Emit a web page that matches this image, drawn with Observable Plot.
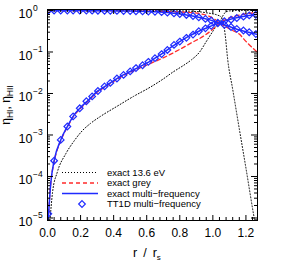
<!DOCTYPE html>
<html><head><meta charset="utf-8">
<script src="https://cdn.jsdelivr.net/npm/d3@7"></script>
<script src="https://cdn.jsdelivr.net/npm/@observablehq/plot@0.6"></script>
<style>html,body{margin:0;padding:0;background:#fff;}#chart{width:293px;height:267px;overflow:hidden;}</style>
</head><body><div id="chart"></div>
<script>
// ---- Data ----
// exact 13.6 eV (black dotted)
const e136R_HI  = [0.015,0.03,0.06,0.11,0.16,0.21,0.26,0.32,0.42,0.52,0.62,0.70,0.76,0.82,0.87,0.92,0.96,1.0,1.03,1.05,1.065,1.08,1.10,1.15,1.2,1.28];
const e136_HI   = [8.7e-6,4e-5,1.3e-4,3.5e-4,7.1e-4,1.26e-3,1.9e-3,2.8e-3,4.9e-3,8.5e-3,0.0141,0.0224,0.0331,0.0468,0.0646,0.100,0.178,0.316,0.479,0.62,0.80,0.93,0.977,1.0,1.0,1.0];
const e136R_HII = [0.0,0.5,0.8,0.87,0.93,0.97,1.0,1.03,1.05,1.06,1.075,1.09,1.12,1.16,1.2,1.25,1.26];
const e136_HII  = [1.0,0.995,0.975,0.96,0.92,0.87,0.83,0.77,0.70,0.60,0.25,0.065,0.0126,1.4e-3,1.6e-4,1e-5,6e-6];
// exact grey (red dashed)
const greyR     = [0.004,0.02,0.04,0.08,0.12,0.16,0.2,0.25,0.3,0.35,0.4,0.45,0.5,0.55,0.62,0.70,0.79,0.87,0.95,1.0,1.04,1.08,1.12,1.16,1.20,1.24,1.28];
const grey_HI   = [8.7e-6,7.1e-5,2.24e-4,7.2e-4,1.55e-3,2.9e-3,4.4e-3,6.8e-3,0.0107,0.0145,0.0195,0.0257,0.0324,0.0398,0.0525,0.0724,0.110,0.166,0.251,0.355,0.49,0.617,0.708,0.776,0.832,0.871,0.891];
const grey_HII  = [1,1,1,1,0.999,0.998,0.997,0.995,0.993,0.99,0.985,0.98,0.975,0.97,0.96,0.945,0.92,0.89,0.79,0.66,0.50,0.40,0.33,0.27,0.18,0.126,0.09];
// exact multi-frequency (blue solid)
const mfR       = [0.004,0.02,0.04,0.08,0.12,0.16,0.2,0.25,0.3,0.35,0.4,0.45,0.5,0.55,0.6,0.65,0.7,0.75,0.8,0.85,0.9,0.95,1.0,1.03,1.06,1.1,1.15,1.2,1.25,1.28];
const mf_HI     = [8.7e-6,7e-5,2.4e-4,7.6e-4,1.6e-3,3.0e-3,4.6e-3,7.1e-3,0.0112,0.0151,0.0204,0.0269,0.0339,0.0427,0.0537,0.0708,0.0955,0.132,0.178,0.234,0.295,0.363,0.437,0.49,0.537,0.603,0.676,0.741,0.794,0.81];
const mf_HII    = [1,1,1,0.999,0.998,0.997,0.995,0.993,0.989,0.985,0.98,0.973,0.966,0.957,0.946,0.929,0.904,0.868,0.822,0.766,0.705,0.637,0.563,0.51,0.463,0.41,0.35,0.31,0.275,0.26];
// TT1D multi-frequency (blue diamonds)
const tt1dR     = [0.005,0.04,0.08,0.12,0.155,0.195,0.235,0.27,0.305,0.345,0.38,0.42,0.46,0.50,0.535,0.575,0.61,0.65,0.69,0.725,0.765,0.80,0.84,0.88,0.915,0.955,0.99,1.03,1.07,1.11,1.145,1.185,1.22,1.26];
const tt1d_HI   = [1.26e-5,2.4e-4,7.6e-4,1.6e-3,2.8e-3,4.4e-3,6.5e-3,8.5e-3,0.0115,0.0148,0.018,0.023,0.028,0.034,0.041,0.048,0.058,0.071,0.089,0.112,0.148,0.178,0.219,0.263,0.316,0.372,0.427,0.49,0.55,0.60,0.66,0.71,0.76,0.79];
const tt1d_HII  = [1.0,1.0,0.999,0.998,0.997,0.996,0.994,0.992,0.989,0.985,0.982,0.977,0.972,0.966,0.959,0.952,0.942,0.929,0.911,0.888,0.852,0.822,0.781,0.737,0.684,0.628,0.573,0.51,0.45,0.40,0.36,0.33,0.30,0.27];
// Ticks / labels
const xTicks      = [0.0,0.2,0.4,0.6,0.8,1.0,1.2];
const xTickLabels = ["0.0","0.2","0.4","0.6","0.8","1.0","1.2"];
const yTicks      = [1,1e-1,1e-2,1e-3,1e-4,1e-5];
const yTickExp    = ["0","\u22121","\u22122","\u22123","\u22124","\u22125"];
const legendLabels = ["exact 13.6 eV","exact grey","exact multi\u2212frequency","TT1D multi\u2212frequency"];

// ---- Layout ----
const W = 293, H = 267, ML = 47, MR = 36, MT = 9, MB = 47;
const FW = W - ML - MR, FH = H - MT - MB;
const FONT = "'Liberation Sans', Arial, Helvetica, sans-serif";
const BLUE = "#1f2bff", RED = "#ff2a2a";

const zip = (xs, ys) => xs.map((x, i) => ({x, y: ys[i]}));
const xMinor = d3.range(0, 1.2701, 0.04).filter(v => !xTicks.some(t => Math.abs(t - v) < 1e-6));
const yMinor = [];
for (let e = -6; e <= 0; e++) for (let m = 2; m <= 9; m++) { const v = m * Math.pow(10, e); if (v > 8.7e-6 && v < 1.057) yMinor.push(v); }

const lineOpts = {x: "x", y: "y", curve: "monotone-x", clip: true};

const plot = Plot.plot({
  width: W, height: H,
  marginLeft: ML, marginRight: MR, marginTop: MT, marginBottom: MB,
  style: {fontFamily: FONT, background: "white", color: "black"},
  x: {domain: [0, 1.27], axis: null},
  y: {type: "log", domain: [8.7e-6, 1.057], axis: null},
  marks: [
    Plot.line(zip(e136R_HI, e136_HI),   {...lineOpts, stroke: "#000", strokeWidth: 1, strokeDasharray: "1,2"}),
    Plot.line(zip(e136R_HII, e136_HII), {...lineOpts, stroke: "#000", strokeWidth: 1, strokeDasharray: "1,2"}),
    Plot.line(zip(greyR, grey_HI),  {...lineOpts, stroke: RED, strokeWidth: 1.3, strokeDasharray: "4,3"}),
    Plot.line(zip(greyR, grey_HII), {...lineOpts, stroke: RED, strokeWidth: 1.3, strokeDasharray: "4,3"}),
    Plot.line(zip(mfR, mf_HI),  {...lineOpts, stroke: BLUE, strokeWidth: 1.5}),
    Plot.line(zip(mfR, mf_HII), {...lineOpts, stroke: BLUE, strokeWidth: 1.5}),
    Plot.dot(zip(tt1dR, tt1d_HI),  {x: "x", y: "y", symbol: "diamond2", r: 3, stroke: BLUE, strokeWidth: 1.2, fill: "none", clip: true}),
    Plot.dot(zip(tt1dR, tt1d_HII), {x: "x", y: "y", symbol: "diamond2", r: 3, stroke: BLUE, strokeWidth: 1.2, fill: "none", clip: true}),
    // ticks (inward, all four sides)
    Plot.tickY(yTicks, {y: d => d, insetRight: FW - 6, stroke: "black"}),
    Plot.tickY(yTicks, {y: d => d, insetLeft: FW - 6, stroke: "black"}),
    Plot.tickY(yMinor, {y: d => d, insetRight: FW - 3, stroke: "black"}),
    Plot.tickY(yMinor, {y: d => d, insetLeft: FW - 3, stroke: "black"}),
    Plot.tickX(xTicks, {x: d => d, insetTop: FH - 5, stroke: "black"}),
    Plot.tickX(xTicks, {x: d => d, insetBottom: FH - 5, stroke: "black"}),
    Plot.tickX(xMinor, {x: d => d, insetTop: FH - 3, stroke: "black"}),
    Plot.tickX(xMinor, {x: d => d, insetBottom: FH - 3, stroke: "black"}),
    Plot.frame({stroke: "black", strokeWidth: 1}),
    // tick labels
    Plot.text(xTicks, {x: d => d, text: (d, i) => xTickLabels[i], frameAnchor: "bottom", dy: 16, fontSize: 12, fill: "black"}),
    Plot.text(yTicks, {y: d => d, text: () => "10", frameAnchor: "left", dx: -15, dy: 4, textAnchor: "end", fontSize: 12.5, fill: "black"}),
    Plot.text(yTicks, {y: d => d, text: (d, i) => yTickExp[i], frameAnchor: "left", dx: -14.5, dy: -2.5, textAnchor: "start", fontSize: 8.5, fill: "black"})
  ]
});

const svg = d3.select(plot);
// x axis title: r / r_s
const xt = svg.append("text").attr("x", 133).attr("y", 257).attr("text-anchor", "start")
  .attr("font-size", 12.5).attr("font-family", FONT).attr("fill", "black");
xt.append("tspan").text("r");
xt.append("tspan").attr("dx", 6).text("/");
xt.append("tspan").attr("dx", 6).text("r");
xt.append("tspan").attr("dy", 3).attr("font-size", 8).text("s");
// y axis title (rotated)
const yt = svg.append("text").attr("transform", "translate(10,105) rotate(-90)").attr("text-anchor", "middle")
  .attr("font-size", 12).attr("font-family", FONT).attr("fill", "black");
yt.append("tspan").text("\u03b7");
yt.append("tspan").attr("dy", 3).attr("font-size", 8.5).text("HI");
yt.append("tspan").attr("dy", -3).text(", \u03b7");
yt.append("tspan").attr("dy", 3).attr("font-size", 8.5).text("HII");
// legend
const lg = svg.append("g").attr("font-family", FONT).attr("font-size", 9.5).attr("fill", "black").attr("text-anchor", "start");
const rows = [172.5, 183, 193.5, 204];
lg.append("line").attr("x1", 62).attr("x2", 98).attr("y1", rows[0]).attr("y2", rows[0]).attr("stroke", "#000").attr("stroke-dasharray", "1,2");
lg.append("line").attr("x1", 62).attr("x2", 98).attr("y1", rows[1]).attr("y2", rows[1]).attr("stroke", RED).attr("stroke-width", 1.3).attr("stroke-dasharray", "4,3");
lg.append("line").attr("x1", 62).attr("x2", 98).attr("y1", rows[2]).attr("y2", rows[2]).attr("stroke", BLUE).attr("stroke-width", 1.5);
lg.append("path").attr("d", d3.symbol(d3.symbolDiamond2, Math.PI * 9)()).attr("transform", `translate(82,${rows[3]})`).attr("fill", "none").attr("stroke", BLUE).attr("stroke-width", 1.2);
legendLabels.forEach((t, i) => lg.append("text").attr("x", 107).attr("y", rows[i]).attr("dy", "0.35em").attr("text-anchor", "start").text(t));

document.getElementById("chart").appendChild(plot);
</script>
</body></html>
